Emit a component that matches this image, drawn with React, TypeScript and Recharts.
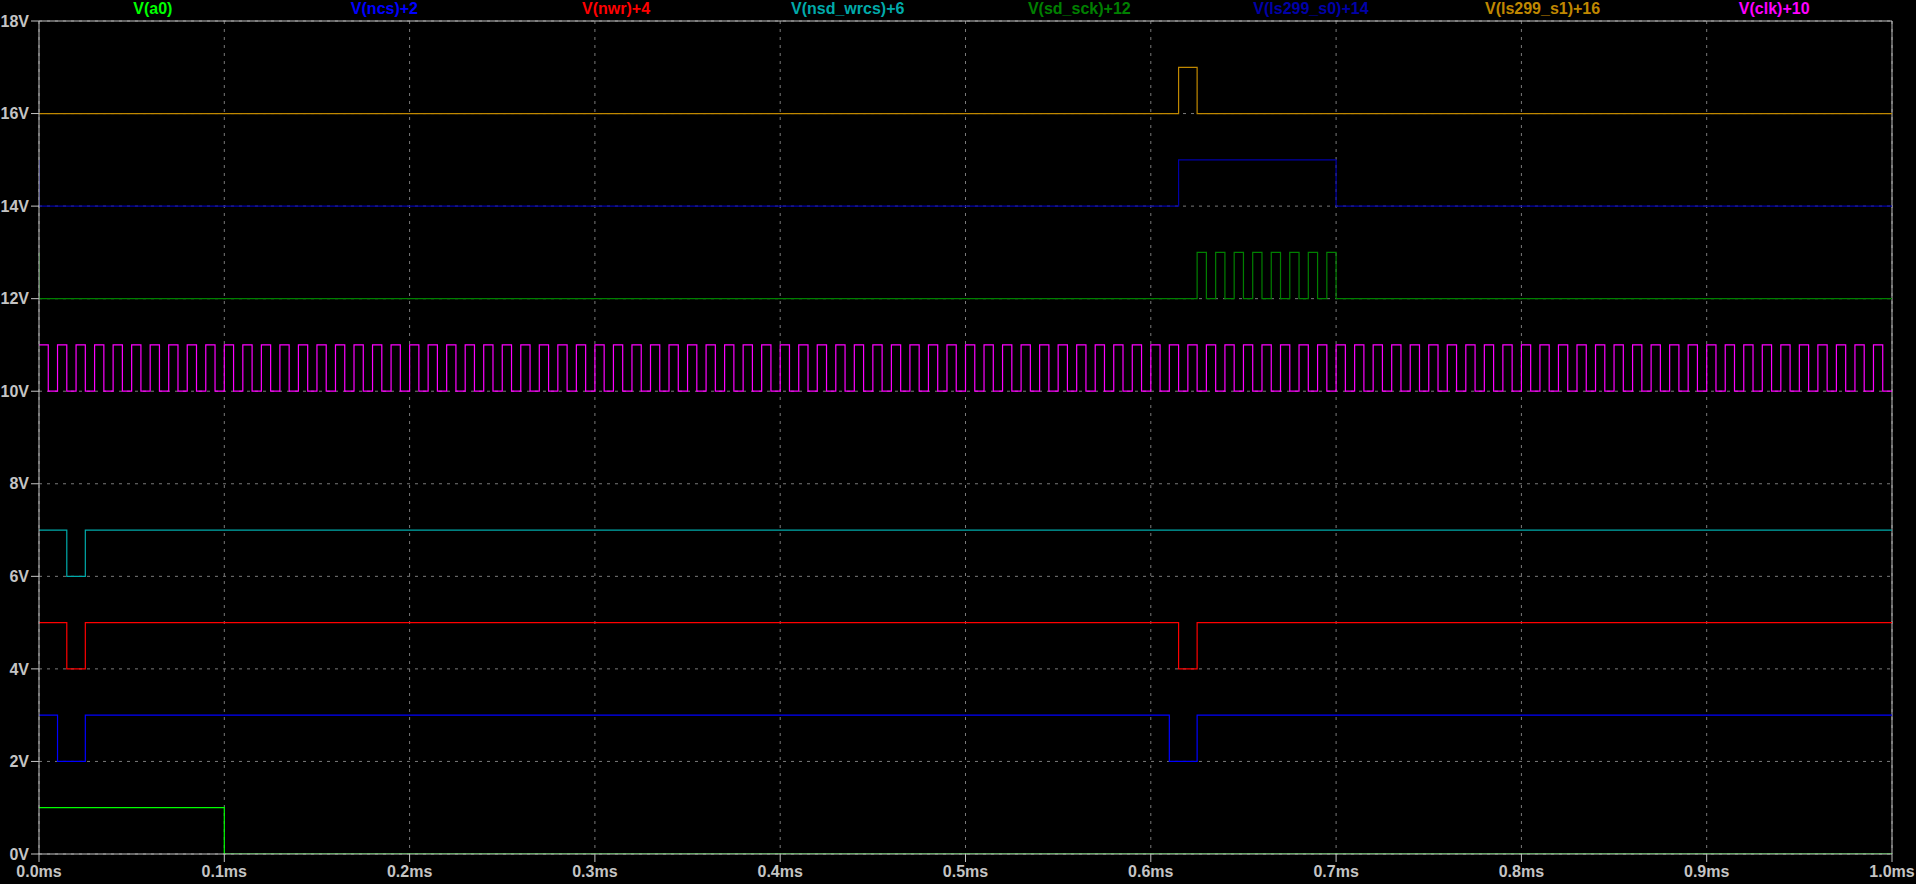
import { LineChart, Line, XAxis, YAxis, CartesianGrid, ReferenceLine } from 'recharts'

// step waveforms: edge times (ms) and the logic level held after each edge
const a0Times = [0, 0.1, 1]
const a0Levels = [1, 0, 0]

const ncsTimes = [0, 0.01, 0.025, 0.61, 0.625, 1]
const ncsLevels = [1, 0, 1, 0, 1, 1]

const nwrTimes = [0, 0.015, 0.025, 0.615, 0.625, 1]
const nwrLevels = [1, 0, 1, 0, 1, 1]

const nsdWrcsTimes = [0, 0.015, 0.025, 1]
const nsdWrcsLevels = [1, 0, 1, 1]

const sdSckTimes = [
  0, 0, 0.625, 0.63, 0.635, 0.64, 0.645, 0.65, 0.655, 0.66, 0.665, 0.67, 0.675, 0.68, 0.685,
  0.69, 0.695, 0.7, 1,
]
const sdSckLevels = [1, 0, 1, 0, 1, 0, 1, 0, 1, 0, 1, 0, 1, 0, 1, 0, 1, 0, 0]

const ls299S0Times = [0, 0, 0.615, 0.7, 1]
const ls299S0Levels = [1, 0, 1, 0, 0]

const ls299S1Times = [0, 0.615, 0.625, 1]
const ls299S1Levels = [0, 1, 0, 0]

const clkRise = [
  0, 0.01, 0.02, 0.03, 0.04, 0.05, 0.06, 0.07, 0.08, 0.09,
  0.1, 0.11, 0.12, 0.13, 0.14, 0.15, 0.16, 0.17, 0.18, 0.19,
  0.2, 0.21, 0.22, 0.23, 0.24, 0.25, 0.26, 0.27, 0.28, 0.29,
  0.3, 0.31, 0.32, 0.33, 0.34, 0.35, 0.36, 0.37, 0.38, 0.39,
  0.4, 0.41, 0.42, 0.43, 0.44, 0.45, 0.46, 0.47, 0.48, 0.49,
  0.5, 0.51, 0.52, 0.53, 0.54, 0.55, 0.56, 0.57, 0.58, 0.59,
  0.6, 0.61, 0.62, 0.63, 0.64, 0.65, 0.66, 0.67, 0.68, 0.69,
  0.7, 0.71, 0.72, 0.73, 0.74, 0.75, 0.76, 0.77, 0.78, 0.79,
  0.8, 0.81, 0.82, 0.83, 0.84, 0.85, 0.86, 0.87, 0.88, 0.89,
  0.9, 0.91, 0.92, 0.93, 0.94, 0.95, 0.96, 0.97, 0.98, 0.99,
]
const clkFall = [
  0.005, 0.015, 0.025, 0.035, 0.045, 0.055, 0.065, 0.075, 0.085, 0.095,
  0.105, 0.115, 0.125, 0.135, 0.145, 0.155, 0.165, 0.175, 0.185, 0.195,
  0.205, 0.215, 0.225, 0.235, 0.245, 0.255, 0.265, 0.275, 0.285, 0.295,
  0.305, 0.315, 0.325, 0.335, 0.345, 0.355, 0.365, 0.375, 0.385, 0.395,
  0.405, 0.415, 0.425, 0.435, 0.445, 0.455, 0.465, 0.475, 0.485, 0.495,
  0.505, 0.515, 0.525, 0.535, 0.545, 0.555, 0.565, 0.575, 0.585, 0.595,
  0.605, 0.615, 0.625, 0.635, 0.645, 0.655, 0.665, 0.675, 0.685, 0.695,
  0.705, 0.715, 0.725, 0.735, 0.745, 0.755, 0.765, 0.775, 0.785, 0.795,
  0.805, 0.815, 0.825, 0.835, 0.845, 0.855, 0.865, 0.875, 0.885, 0.895,
  0.905, 0.915, 0.925, 0.935, 0.945, 0.955, 0.965, 0.975, 0.985, 0.995,
]

const xTicks = [0, 0.1, 0.2, 0.3, 0.4, 0.5, 0.6, 0.7, 0.8, 0.9, 1.0]
const yTicks = [0, 2, 4, 6, 8, 10, 12, 14, 16, 18]

interface Pt {
  t: number
  v: number
}

function steps(times: number[], levels: number[], offset: number): Pt[] {
  return times.map((t, i) => ({ t, v: levels[i] + offset }))
}

function clockSteps(rise: number[], fall: number[], offset: number): Pt[] {
  const pts: Pt[] = []
  rise.forEach((r, i) => {
    pts.push({ t: r, v: 1 + offset })
    pts.push({ t: fall[i], v: offset })
  })
  pts.push({ t: 1, v: offset })
  return pts
}

const traces = [
  { name: 'V(a0)', color: '#00ff00', data: steps(a0Times, a0Levels, 0) },
  { name: 'V(ncs)+2', color: '#0000ff', data: steps(ncsTimes, ncsLevels, 2) },
  { name: 'V(nwr)+4', color: '#ff0000', data: steps(nwrTimes, nwrLevels, 4) },
  { name: 'V(nsd_wrcs)+6', color: '#00aaaa', data: steps(nsdWrcsTimes, nsdWrcsLevels, 6) },
  { name: 'V(sd_sck)+12', color: '#008000', data: steps(sdSckTimes, sdSckLevels, 12) },
  { name: 'V(ls299_s0)+14', color: '#0000a8', data: steps(ls299S0Times, ls299S0Levels, 14) },
  { name: 'V(ls299_s1)+16', color: '#c08800', data: steps(ls299S1Times, ls299S1Levels, 16) },
  { name: 'V(clk)+10', color: '#ff00ff', data: clockSteps(clkRise, clkFall, 10) },
]

const font = '"Liberation Sans", Arial, sans-serif'
const tickStyle = { fill: '#c4c4c4', fontSize: 16, fontWeight: 'bold', fontFamily: font }

export default function App() {
  return (
    <div style={{ position: 'relative', width: 1916, height: 884, background: '#000' }}>
      <style>{`body { margin: 0; background: #000; }`}</style>
      <div
        style={{
          position: 'absolute',
          top: 0,
          left: 37,
          width: 1853,
          display: 'flex',
          fontFamily: font,
          fontWeight: 'bold',
          fontSize: 16,
          lineHeight: '18px',
        }}
      >
        {traces.map((tr) => (
          <div key={tr.name} style={{ flex: 1, textAlign: 'center', color: tr.color }}>
            {tr.name}
          </div>
        ))}
      </div>
      <LineChart width={1916} height={884} margin={{ top: 21, right: 24, bottom: 0, left: 0 }}>
        <CartesianGrid stroke="#7a7a7a" strokeDasharray="3 5" />
        <XAxis
          type="number"
          dataKey="t"
          domain={[0, 1]}
          ticks={xTicks}
          interval={0}
          height={30}
          stroke="#c4c4c4"
          tickSize={8}
          tickMargin={4}
          tick={tickStyle}
          tickFormatter={(v: number) => `${v.toFixed(1)}ms`}
          allowDataOverflow
        />
        <YAxis
          type="number"
          domain={[0, 18]}
          ticks={yTicks}
          interval={0}
          width={39}
          stroke="#c4c4c4"
          tickSize={8}
          tickMargin={2}
          tick={tickStyle}
          tickFormatter={(v: number) => `${v}V`}
          allowDataOverflow
        />
        <ReferenceLine y={18} stroke="#c4c4c4" />
        <ReferenceLine x={1} stroke="#c4c4c4" />
        {traces.map((tr) => (
          <Line
            key={tr.name}
            data={tr.data}
            dataKey="v"
            type="stepAfter"
            stroke={tr.color}
            strokeWidth={1.2}
            dot={false}
            activeDot={false}
            isAnimationActive={false}
          />
        ))}
      </LineChart>
    </div>
  )
}
